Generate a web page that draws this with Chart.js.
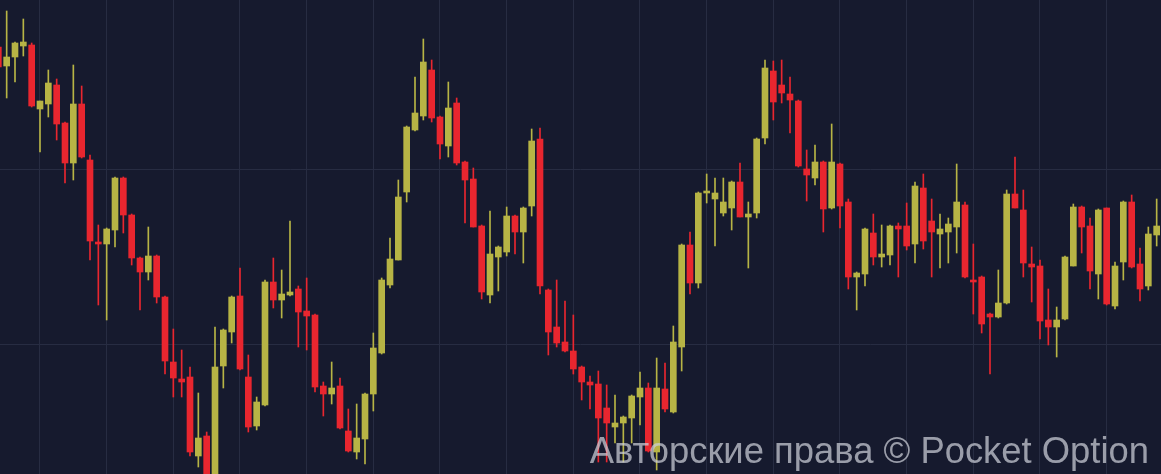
<!DOCTYPE html>
<html>
<head>
<meta charset="utf-8">
<script src="https://cdn.jsdelivr.net/npm/chart.js@4/dist/chart.umd.min.js"></script>
<style>
  html, body { margin: 0; padding: 0; background: #161a2e; overflow: hidden; }
  #wrap { position: relative; width: 1161px; height: 474px; }
  #mark {
    position: absolute; right: 12px; bottom: 5px;
    font-family: "Liberation Sans", Arial, sans-serif; font-size: 36.4px;
    color: rgba(205, 208, 218, 0.72); white-space: nowrap; line-height: 1;
  }
</style>
</head>
<body>
<div id="wrap">
  <canvas id="c"></canvas>
  <div id="mark">Авторские права © Pocket Option</div>
</div>
<script>
// Candle data (price units), one entry per candle, left to right
const open  = [427,408,417,428,429,365,370,389,351,311,370,314,232,230,244,296,259,216,202,218,
               177,112,95,97,18,38,-16,108,142,178,97,48,69,192,174,179,185,163,159,88,
               80,88,43,22,35,80,121,189,214,282,344,358,404,357,328,371,312,295,248,179,
               217,222,258,242,268,335,184,147,132,123,107,92,90,66,47,51,56,77,86,22,
               85,62,127,229,191,281,275,261,266,292,257,261,336,403,389,380,373,305,296,312,
               266,310,272,197,200,241,217,219,248,248,230,286,253,240,242,247,269,194,197,160,
               157,171,280,264,210,208,154,147,155,208,267,248,200,266,168,212,272,210,188,239];
const high  = [429,463,432,455,431,373,404,395,352,409,388,319,249,246,297,297,260,217,247,219,
               178,145,124,107,81,42,147,145,178,206,119,77,194,216,204,253,188,196,160,92,
               112,96,65,70,81,141,196,236,294,348,397,435,414,358,392,376,313,306,249,263,
               228,267,259,267,345,346,185,194,173,159,108,98,103,89,79,58,79,102,91,116,
               111,148,230,242,282,300,296,296,293,311,272,336,414,413,414,397,374,324,329,313,
               350,311,275,202,246,260,249,249,251,271,292,300,275,260,256,310,272,230,198,161,
               204,284,317,284,227,214,185,167,218,270,268,256,265,266,212,273,279,226,247,275];
const low   = [405,376,392,418,367,322,357,334,291,294,316,214,169,154,227,241,209,164,194,171,
               100,77,77,18,7,-16,-21,86,131,104,42,44,68,166,156,178,127,124,82,58,
               70,45,22,15,10,63,120,186,214,272,343,354,352,315,317,309,251,247,175,171,
               183,218,220,211,258,180,119,127,122,100,74,65,12,12,31,12,31,49,22,4,
               62,61,103,180,186,271,228,258,244,257,206,256,330,354,371,341,307,273,289,242,
               265,246,185,164,188,209,207,209,197,224,211,225,197,206,211,221,196,160,141,100,
               156,170,266,197,172,135,129,117,154,208,221,185,175,169,165,194,206,173,184,228];
const close = [407,417,431,432,368,373,391,350,311,370,317,233,230,245,296,259,216,202,218,177,
               113,96,92,22,36,-6,107,144,177,105,47,72,192,174,180,182,162,158,87,80,
               86,46,23,36,80,126,194,215,277,347,361,412,356,330,366,311,294,247,182,220,
               227,258,242,266,333,188,142,131,123,105,92,89,56,51,51,57,78,86,23,86,
               65,132,229,191,281,283,281,272,292,257,260,335,406,372,381,374,308,299,312,265,
               312,268,197,201,245,217,220,248,245,228,288,233,242,245,250,272,197,192,150,157,
               171,280,266,211,207,153,147,154,217,267,247,203,264,170,208,272,207,185,240,248];

// Grid levels
const xGridAt = [5,13,21,29,37,45,53,61,69,77,85,93,101,109,117,125,133];
const yGridAt = [130, 304];

const UP = '#b7b445';
const DOWN = '#e8262f';
const GRID = '#272c42';

const idx = open.map((_, i) => i);
const isUp = idx.map(i => close[i] >= open[i]);
const colors = isUp.map(u => u ? UP : DOWN);

new Chart(document.getElementById('c'), {
  type: 'bar',
  data: {
    datasets: [
      {
        label: 'body',
        data: idx.map(i => ({ x: i, y: [open[i], close[i]] })),
        backgroundColor: colors,
        barThickness: 6,
        minBarLength: 2,
        grouped: false,
        order: 0
      },
      {
        label: 'wick',
        data: idx.map(i => ({ x: i, y: [low[i], high[i]] })),
        backgroundColor: colors,
        barThickness: 1,
        grouped: false,
        order: 1
      }
    ]
  },
  options: {
    responsive: true,
    maintainAspectRatio: false,
    animation: false,
    events: [],
    layout: { padding: 0 },
    plugins: { legend: { display: false }, tooltip: { enabled: false } },
    scales: {
      x: {
        type: 'linear',
        min: 0.2,
        max: 139.52,
        offset: false,
        afterBuildTicks: s => { s.ticks = xGridAt.map(v => ({ value: v })); },
        ticks: { display: false },
        grid: { color: GRID, lineWidth: 1, drawTicks: false, offset: false },
        border: { display: false }
      },
      y: {
        type: 'linear',
        min: 0,
        max: 474,
        afterBuildTicks: s => { s.ticks = yGridAt.map(v => ({ value: v })); },
        ticks: { display: false },
        grid: { color: GRID, lineWidth: 1, drawTicks: false },
        border: { display: false }
      }
    }
  }
});
</script>
</body>
</html>
